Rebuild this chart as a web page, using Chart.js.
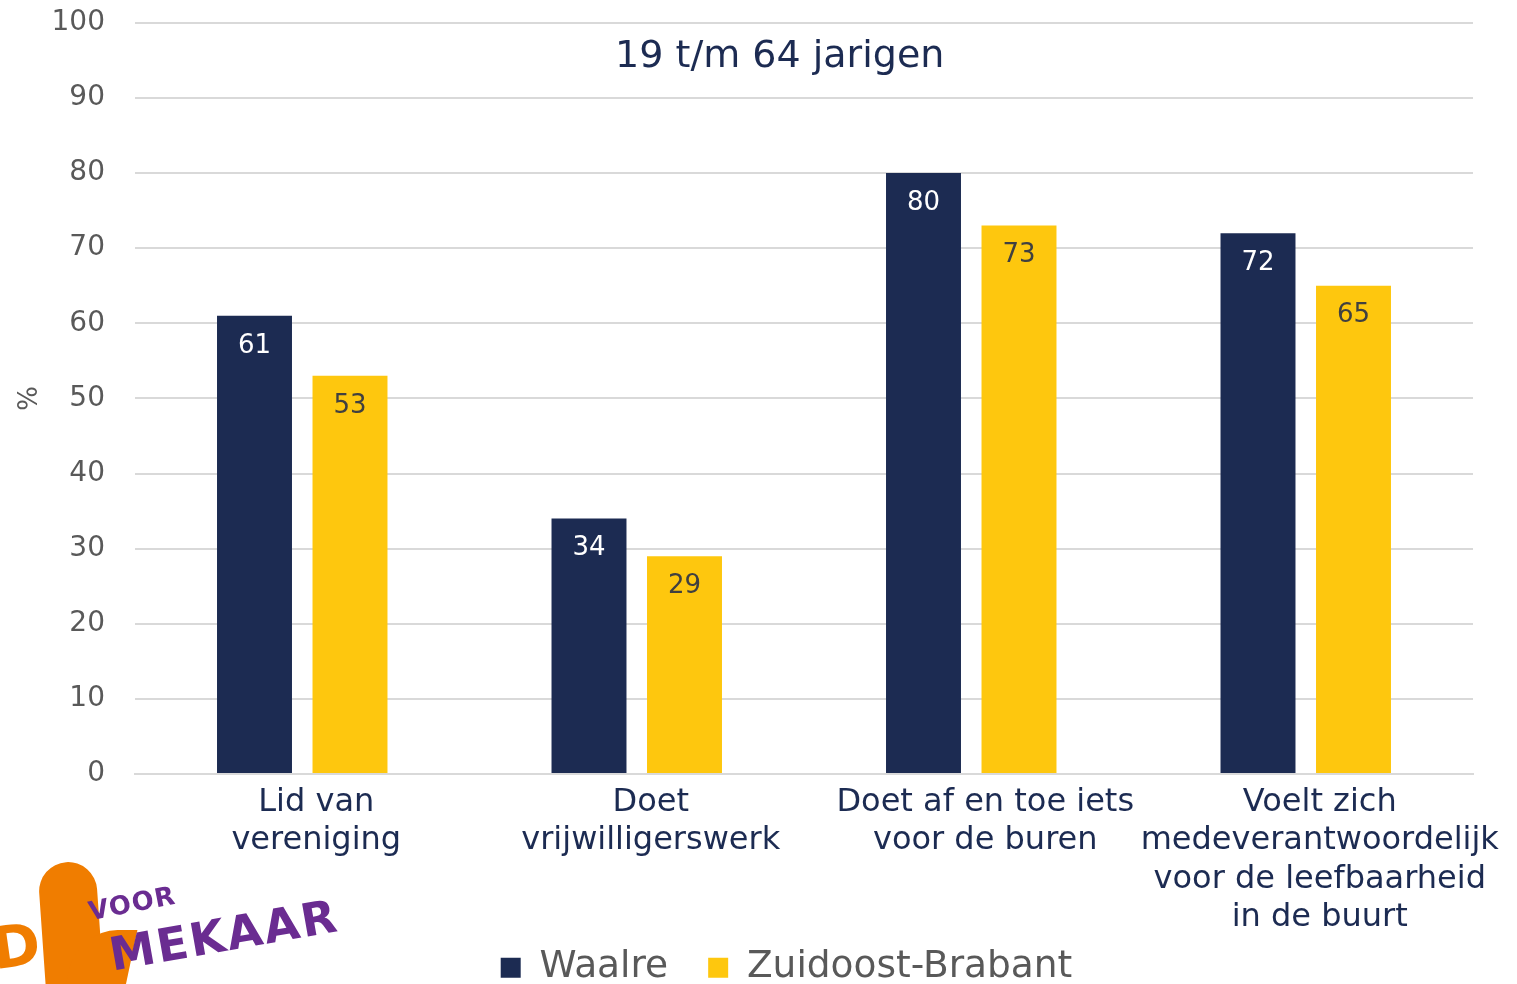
<!DOCTYPE html>
<html>
<head>
<meta charset="utf-8">
<script src="https://cdn.jsdelivr.net/npm/chart.js@4/dist/chart.umd.min.js"></script>
<style>
  html, body { margin: 0; padding: 0; background: #fff; }
  #wrap { position: relative; width: 1517px; height: 984px; overflow: hidden; }
  #box { position: absolute; left: 0; top: -24px; width: 1517px; height: 1010px; }
  .logo { position: absolute; font-family: "DejaVu Sans", Verdana, sans-serif; font-weight: bold; color: #6a2c91; }
  .blob { position: absolute; background: #f07d00; }
</style>
</head>
<body>
<div id="wrap">
  <div id="box"><canvas id="c"></canvas></div>
  <div class="blob" style="left:42px; top:862px; width:58px; height:140px; border-radius:30px 30px 10px 10px; transform:rotate(-4deg);"></div>
  <div class="blob" style="left:70px; top:930px; width:60px; height:70px; border-radius:40px 0 0 0; transform:skewX(-12deg);"></div>
  <div class="logo" style="left:-8px; top:912px; font-size:58px; color:#f07d00; transform:rotate(-8deg);">D</div>
  <div class="logo" style="left:88px; top:888px; font-size:26px; transform:rotate(-11deg); letter-spacing:1px;">VOOR</div>
  <div class="logo" style="left:108px; top:908px; font-size:46px; transform:rotate(-10deg); letter-spacing:2px;">MEKAAR</div>
</div>
<script>
const categories = [
  ["Lid van", "vereniging"],
  ["Doet", "vrijwilligerswerk"],
  ["Doet af en toe iets", "voor de buren"],
  ["Voelt zich", "medeverantwoordelijk", "voor de leefbaarheid", "in de buurt"]
];
const waalre = [61, 34, 80, 72];
const zuidoostBrabant = [53, 29, 73, 65];
const seriesNames = ["Waalre", "Zuidoost-Brabant"];
const yTicks = [0, 10, 20, 30, 40, 50, 60, 70, 80, 90, 100];
const chartTitle = "19 t/m 64 jarigen";
const yAxisTitle = "%";

const FONT = '"DejaVu Sans", Verdana, sans-serif';
const NAVY = '#1c2b52';
const YELLOW = '#fec70e';

const dataLabels = {
  id: 'dataLabels',
  afterDatasetsDraw(chart) {
    const ctx = chart.ctx;
    ctx.save();
    ctx.font = '26px ' + FONT;
    ctx.textAlign = 'center';
    ctx.textBaseline = 'middle';
    chart.data.datasets.forEach((ds, i) => {
      const meta = chart.getDatasetMeta(i);
      ctx.fillStyle = i === 0 ? '#ffffff' : '#404040';
      meta.data.forEach((bar, j) => {
        ctx.fillText(String(ds.data[j]), bar.x, bar.y + 30);
      });
    });
    ctx.restore();
  }
};

const innerTitle = {
  id: 'innerTitle',
  afterDraw(chart) {
    const ctx = chart.ctx;
    const a = chart.chartArea;
    ctx.save();
    ctx.font = '38px ' + FONT;
    ctx.fillStyle = NAVY;
    ctx.textAlign = 'center';
    ctx.textBaseline = 'middle';
    ctx.fillText(chartTitle, chart.width * 0.514, a.top + 34);
    ctx.restore();
  }
};

// Legend keeps its wide item spacing but takes little layout height,
// so the four-line category label is not clipped.
const legendLayout = {
  id: 'legendLayout',
  afterInit(chart) {
    const lg = chart.legend;
    const fit = lg.fit;
    lg.fit = function () { fit.call(this); this.height = 50; };
  },
  afterLayout(chart) {
    const lg = chart.legend;
    lg.top -= 27;
    lg.bottom = lg.top + 110;
    lg.height = 110;
    lg.left += 50; lg.right += 50;
  }
};

new Chart(document.getElementById('c'), {
  type: 'bar',
  data: {
    labels: categories,
    datasets: [
      { label: seriesNames[0], data: waalre, backgroundColor: NAVY },
      { label: seriesNames[1], data: zuidoostBrabant, backgroundColor: YELLOW }
    ]
  },
  plugins: [dataLabels, innerTitle, legendLayout],
  options: {
    responsive: true,
    maintainAspectRatio: false,
    animation: false,
    devicePixelRatio: 1,
    categoryPercentage: 0.571,
    barPercentage: 0.785,
    layout: { padding: { top: 0, right: 44, left: 0, bottom: 0 } },
    plugins: {
      title: { display: false },
      tooltip: { enabled: false },
      legend: {
        position: 'bottom',
        labels: {
          font: { family: FONT, size: 37.5 },
          color: '#595959',
          boxWidth: 20,
          boxHeight: 20,
          padding: 40
        }
      }
    },
    scales: {
      x: {
        grid: { display: false, drawTicks: false },
        border: { display: true, color: '#d9d9d9', width: 2 },
        ticks: {
          font: { family: FONT, size: 32, lineHeight: 1.19 },
          color: NAVY,
          padding: 10,
          labelOffset: 14,
          maxRotation: 0,
          autoSkip: false
        },
        afterFit(scale) { scale.height = 162; }
      },
      y: {
        min: 0,
        max: 100,
        afterBuildTicks(scale) { scale.ticks = yTicks.map(v => ({ value: v })); },
        grid: { color: '#d9d9d9', lineWidth: 2, drawTicks: false },
        border: { display: false },
        ticks: {
          font: { family: FONT, size: 28 },
          color: '#595959',
          padding: 30
        },
        title: {
          display: true,
          text: yAxisTitle,
          font: { family: FONT, size: 26 },
          color: '#595959',
          padding: { top: 15, bottom: 0 }
        },
        afterFit(scale) { scale.width = 135; }
      }
    }
  }
});
</script>
</body>
</html>
